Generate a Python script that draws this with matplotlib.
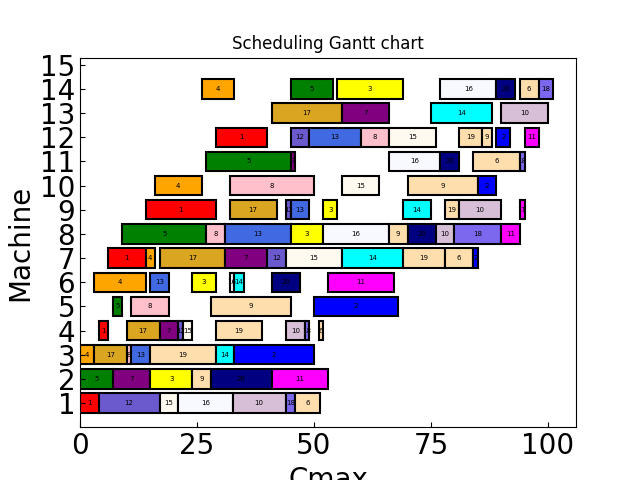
import matplotlib
matplotlib.use("Agg")
import matplotlib.pyplot as plt

# job colours
colors = {1: "red", 2: "blue", 3: "yellow", 4: "orange", 5: "green", 6: "navajowhite",
          7: "purple", 8: "pink", 9: "navajowhite", 10: "thistle", 11: "magenta",
          12: "slateblue", 13: "royalblue", 14: "cyan", 15: "floralwhite",
          16: "ghostwhite", 17: "goldenrod", 18: "mediumslateblue", 19: "navajowhite",
          20: "navy"}

# (job, start, end) per machine
m1 = [(1, 0, 4), (12, 4, 17), (15, 17, 21), (16, 21, 32.6), (10, 32.6, 44), (18, 44, 46), (6, 46, 51.3)]
m2 = [(5, 0, 7), (7, 7, 15), (3, 15, 24), (9, 24, 28), (20, 28, 41), (11, 41, 53)]
m3 = [(4, 0, 3), (17, 3, 10), (8, 10, 11), (13, 11, 15), (19, 15, 29), (14, 29, 33), (2, 33, 50)]
m4 = [(1, 4, 6), (17, 10, 17), (7, 17, 21), (12, 21, 22), (15, 22, 24), (19, 29, 39),
      (10, 44, 48), (18, 48, 49), (6, 51, 52)]
m5 = [(5, 7, 9), (8, 11, 19), (9, 28, 45), (2, 50, 68)]
m6 = [(4, 3, 14), (13, 15, 19), (3, 24, 29), (16, 32, 33), (14, 33, 35), (20, 41, 47), (11, 53, 67)]
m7 = [(1, 6, 14), (4, 14, 16), (17, 17, 31), (7, 31, 40), (12, 40, 44), (15, 44, 56),
      (14, 56, 69), (19, 69, 78), (6, 78, 84), (2, 84, 85)]
m8 = [(5, 9, 27), (8, 27, 31), (13, 31, 45), (3, 45, 52), (16, 52, 66), (9, 66, 70),
      (20, 70, 76), (10, 76, 80), (18, 80, 90), (11, 90, 94)]
m9 = [(1, 14, 29), (17, 32, 42), (12, 44, 45), (13, 45, 49), (3, 52, 55), (14, 69, 75),
      (19, 78, 81), (10, 81, 90), (11, 94, 95)]
m10 = [(4, 16, 26), (8, 32, 50), (15, 56, 64), (9, 70, 85), (2, 85, 89)]
m11 = [(5, 27, 45), (7, 45, 46), (16, 66, 77), (20, 77, 81), (6, 84, 94), (18, 94, 95)]
m12 = [(1, 29, 40), (12, 45, 49), (13, 49, 60), (8, 60, 66), (15, 66, 76), (19, 81, 86),
       (9, 86, 88), (2, 89, 92), (11, 95, 98)]
m13 = [(17, 41, 56), (7, 56, 66), (14, 75, 88), (10, 90, 100)]
m14 = [(4, 26, 33), (5, 45, 54), (3, 55, 69), (16, 77, 89), (20, 89, 93), (6, 94, 98), (18, 98, 101)]

machines = [m1, m2, m3, m4, m5, m6, m7, m8, m9, m10, m11, m12, m13, m14]

fig, ax = plt.subplots(figsize=(6.4, 4.8), dpi=100)
for i, ops in enumerate(machines, start=1):
    for job, s, e in ops:
        ax.barh(i, e - s, left=s, height=0.8, color=colors[job],
                edgecolor="black", linewidth=1.5)
        ax.text((s + e) / 2, i, str(job), ha="center", va="center", fontsize=5)

ax.set_xlim(0, 106)
ax.set_ylim(0, 15.3)
ax.set_yticks(range(1, 16))
ax.set_xticks([0, 25, 50, 75, 100])
ax.tick_params(direction="in", labelsize=20)
ax.set_xlabel("Cmax", fontsize=20)
ax.set_ylabel("Machine", fontsize=20)
ax.set_title("Scheduling Gantt chart")
plt.savefig("out.png")
